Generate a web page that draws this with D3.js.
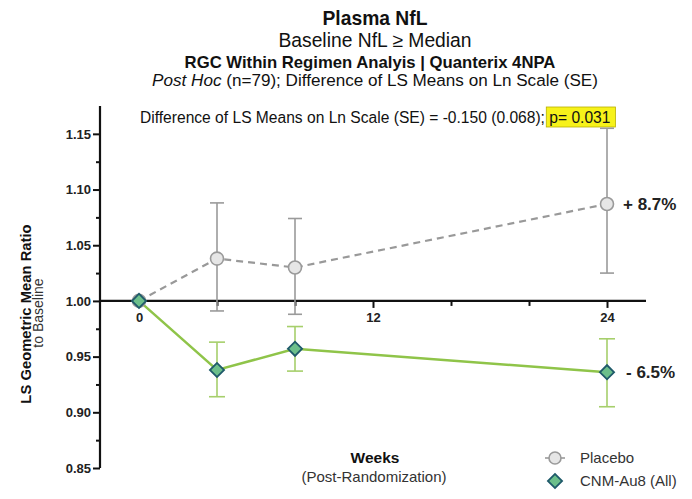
<!DOCTYPE html>
<html><head><meta charset="utf-8">
<script src="https://cdn.jsdelivr.net/npm/d3@7"></script>
<style>body{margin:0;background:#fff;} svg{display:block;font-family:"Liberation Sans",Arial,sans-serif;}</style>
</head><body>
<svg id="c" width="692" height="499"></svg>
<script>
const weeks = [0, 4, 8, 24];
const placeboMean = [1.000, 1.038, 1.030, 1.087];
const placeboUpper = [null, 1.088, 1.074, 1.155];
const placeboLower = [null, 0.991, 0.988, 1.025];
const cnmMean = [1.000, 0.938, 0.957, 0.936];
const cnmUpper = [null, 0.963, 0.977, 0.966];
const cnmLower = [null, 0.914, 0.937, 0.905];
const yTicks = [0.85, 0.90, 0.95, 1.00, 1.05, 1.10, 1.15];
const yMinorTicks = [0.875, 0.925, 0.975, 1.025, 1.075, 1.125];
const xLabelTicks = [0, 12, 24];
const xMinorTicks = [4, 8, 16, 20];
const seriesNames = ["Placebo", "CNM-Au8 (All)"];
const endLabels = ["+ 8.7%", "- 6.5%"];

const svg = d3.select("#c");
const x = d3.scaleLinear().domain([-2, 26]).range([100, 646]);
const y = d3.scaleLinear().domain([0.85, 1.175]).range([468, 106]);

const bgLayer = svg.append("g");

// titles
const t = svg.append("g").attr("text-anchor", "middle").attr("fill", "#111");
t.append("text").attr("x", 375).attr("y", 25).attr("font-size", 19.3).attr("font-weight", "bold").text("Plasma NfL");
t.append("text").attr("x", 375).attr("y", 47).attr("font-size", 19.3).text("Baseline NfL \u2265 Median");
t.append("text").attr("x", 370).attr("y", 68).attr("font-size", 16.7).attr("font-weight", "bold").text("RGC Within Regimen Analyis | Quanterix 4NPA");
const ph = t.append("text").attr("x", 375).attr("y", 86).attr("font-size", 17.1);
ph.append("tspan").attr("font-style", "italic").text("Post Hoc");
ph.append("tspan").text(" (n=79); Difference of LS Means on Ln Scale (SE)");

// axes
const yAxis = d3.axisLeft(y).tickValues(yTicks).tickFormat(d3.format(".2f")).tickSize(7).tickPadding(2);
const gy = svg.append("g").attr("transform", "translate(100,0)").call(yAxis);
gy.select(".domain").attr("d", `M0,${y(1.175)}V${y(0.85)}`).attr("stroke", "#111").attr("stroke-width", 2.2);
gy.selectAll(".tick line").attr("stroke", "#111").attr("stroke-width", 2);
gy.selectAll(".tick text").attr("font-size", 13).attr("font-weight", "bold").attr("fill", "#222");
const gym = svg.append("g").attr("transform", "translate(100,0)").call(d3.axisLeft(y).tickValues(yMinorTicks).tickSize(4).tickFormat(""));
gym.select(".domain").remove();
gym.selectAll(".tick line").attr("stroke", "#111").attr("stroke-width", 2);

const xAxis = d3.axisBottom(x).tickValues(xLabelTicks).tickSize(7).tickPadding(5);
const gx = svg.append("g").attr("transform", `translate(0,${y(1)})`).call(xAxis);
gx.select(".domain").attr("d", `M${x(-2)},0H${x(26)}`).attr("stroke", "#111").attr("stroke-width", 2.2);
gx.selectAll(".tick line").attr("stroke", "#111").attr("stroke-width", 2);
gx.selectAll(".tick").filter(d => d === 0).select("line").remove();
gx.selectAll(".tick text").attr("font-size", 13).attr("font-weight", "bold").attr("fill", "#222");
const gxm = svg.append("g").attr("transform", `translate(0,${y(1)})`).call(d3.axisBottom(x).tickValues(xMinorTicks).tickSize(5).tickFormat(""));
gxm.select(".domain").remove();
gxm.selectAll(".tick line").attr("stroke", "#111").attr("stroke-width", 2);

// axis titles
svg.append("text").attr("transform", "translate(31,314) rotate(-90)").attr("text-anchor", "middle")
  .attr("font-size", 14.8).attr("font-weight", "bold").attr("fill", "#111").text("LS Geometric Mean Ratio");
svg.append("text").attr("transform", "translate(43,313) rotate(-90)").attr("text-anchor", "middle")
  .attr("font-size", 14).attr("fill", "#333").text("to Baseline");
svg.append("text").attr("x", 375).attr("y", 463).attr("text-anchor", "middle").attr("font-size", 15.5).attr("font-weight", "bold").attr("fill", "#111").text("Weeks");
svg.append("text").attr("x", 374).attr("y", 482).attr("text-anchor", "middle").attr("font-size", 15).attr("fill", "#333").text("(Post-Randomization)");

// annotation
const ann = svg.append("text").attr("x", 140).attr("y", 123).attr("font-size", 15.6).attr("fill", "#111");
ann.append("tspan").text("Difference of LS Means on Ln Scale (SE) = -0.150 (0.068); ");
const pspan = ann.append("tspan").text("p= 0.031");

const pData = weeks.map((w, i) => ({w, m: placeboMean[i], u: placeboUpper[i], l: placeboLower[i]}));
const cData = weeks.map((w, i) => ({w, m: cnmMean[i], u: cnmUpper[i], l: cnmLower[i]}));
const line = d3.line().x(d => x(d.w)).y(d => y(d.m));

function errorBars(data, color, w) {
  const g = svg.append("g").attr("stroke", color).attr("stroke-width", 1.6).attr("fill", "none");
  data.filter(d => d.u != null).forEach(d => {
    g.append("line").attr("x1", x(d.w)).attr("x2", x(d.w)).attr("y1", y(d.u)).attr("y2", y(d.l));
    g.append("line").attr("x1", x(d.w) - w).attr("x2", x(d.w) + w).attr("y1", y(d.u)).attr("y2", y(d.u));
    g.append("line").attr("x1", x(d.w) - w).attr("x2", x(d.w) + w).attr("y1", y(d.l)).attr("y2", y(d.l));
  });
}
errorBars(pData, "#9a9a9a", 7);
errorBars(cData, "#a6cf6b", 8);

svg.append("path").datum(pData).attr("d", line).attr("fill", "none").attr("stroke", "#999").attr("stroke-width", 2.2).attr("stroke-dasharray", "7,5");
svg.append("path").datum(cData).attr("d", line).attr("fill", "none").attr("stroke", "#8fc449").attr("stroke-width", 2.5);

svg.append("g").selectAll("circle").data(pData).join("circle")
  .attr("cx", d => x(d.w)).attr("cy", d => y(d.m)).attr("r", 6.5)
  .attr("fill", "#e6e6e6").attr("stroke", "#9a9a9a").attr("stroke-width", 1.6);
const diamond = d3.symbol().type(d3.symbolSquare).size(100);
svg.append("g").selectAll("path").data(cData).join("path")
  .attr("d", diamond).attr("transform", d => `translate(${x(d.w)},${y(d.m)}) rotate(45)`)
  .attr("fill", "#6cbf8b").attr("stroke", "#1f5a6a").attr("stroke-width", 1.8);

// end labels
svg.append("text").attr("x", x(24) + 16).attr("y", y(placeboMean[3]) + 6).attr("font-size", 17).attr("font-weight", "bold").attr("fill", "#222").text(endLabels[0]);
svg.append("text").attr("x", x(24) + 19).attr("y", y(cnmMean[3]) + 6).attr("font-size", 17).attr("font-weight", "bold").attr("fill", "#222").text(endLabels[1]);

// highlight behind p
const annBox = ann.node().getBBox();
const pLen = pspan.node().getComputedTextLength();
bgLayer.append("rect").attr("x", annBox.x + annBox.width - pLen - 3).attr("y", 107).attr("width", pLen + 8).attr("height", 20)
  .attr("fill", "#f7f21a").attr("stroke", "#b8b000").attr("stroke-width", 0.8);

// legend
const lg = svg.append("g");
lg.append("line").attr("x1", 545).attr("x2", 565).attr("y1", 458).attr("y2", 458).attr("stroke", "#9a9a9a").attr("stroke-width", 1.6);
lg.append("circle").attr("cx", 555).attr("cy", 458).attr("r", 6).attr("fill", "#e6e6e6").attr("stroke", "#9a9a9a").attr("stroke-width", 1.6);
lg.append("text").attr("x", 580).attr("y", 463).attr("font-size", 15).attr("fill", "#333").text(seriesNames[0]);
lg.append("path").attr("d", diamond).attr("transform", "translate(555,481) rotate(45)").attr("fill", "#6cbf8b").attr("stroke", "#1f5a6a").attr("stroke-width", 1.8);
lg.append("text").attr("x", 580).attr("y", 486).attr("font-size", 15).attr("fill", "#333").text(seriesNames[1]);
</script>
</body></html>
